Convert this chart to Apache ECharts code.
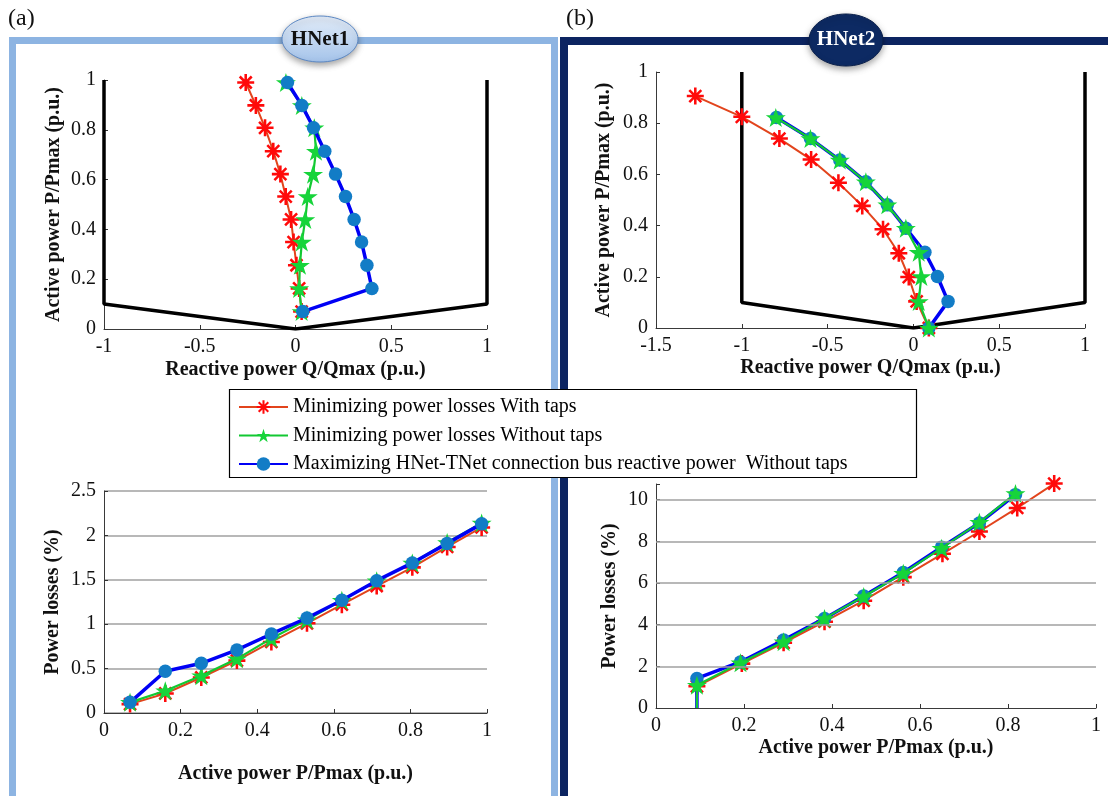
<!DOCTYPE html>
<html><head><meta charset="utf-8">
<script src="https://cdn.jsdelivr.net/npm/echarts@6/dist/echarts.min.js"></script>
<style>html,body{margin:0;padding:0;background:#fff}#c{width:1108px;height:796px}</style>
</head><body><div id="c"></div>
<script>
// ---- series names ----
const nameRed = 'Minimizing power losses With taps';
const nameGreen = 'Minimizing power losses Without taps';
const nameBlue = 'Maximizing HNet-TNet connection bus reactive power  Without taps';

// ---- capability boundary (Q, P) ----
const boundaryQ = [-1, -1, 0, 1, 1];
const boundaryP = [1, 0.1, 0, 0.1, 1];

// ---- HNet1: P/Pmax operating points ----
const p1 = [0.07, 0.163, 0.256, 0.349, 0.44, 0.532, 0.622, 0.714, 0.808, 0.898, 0.99];
const q1Red = [0.032, 0.019, 0.005, -0.010, -0.023, -0.051, -0.079, -0.116, -0.159, -0.207, -0.26];
const q1Green = [0.032, 0.019, 0.023, 0.033, 0.051, 0.064, 0.092, 0.107, 0.098, 0.033, -0.05];
const q1Blue = [0.038, 0.399, 0.373, 0.345, 0.306, 0.261, 0.209, 0.153, 0.094, 0.033, -0.042];
const pl1 = [0.068, 0.16, 0.254, 0.347, 0.437, 0.53, 0.621, 0.712, 0.805, 0.896, 0.986];
const loss1Red = [0.10, 0.22, 0.40, 0.59, 0.80, 1.01, 1.22, 1.43, 1.64, 1.87, 2.09];
const loss1Green = [0.12, 0.25, 0.42, 0.61, 0.84, 1.05, 1.27, 1.49, 1.69, 1.92, 2.14];
const loss1Blue = [0.12, 0.47, 0.56, 0.71, 0.89, 1.07, 1.27, 1.49, 1.69, 1.91, 2.13];

// ---- HNet2 ----
const p2Red = [0.0, 0.104, 0.199, 0.292, 0.386, 0.477, 0.567, 0.658, 0.74, 0.825, 0.906];
const q2Red = [0.09, 0.019, -0.027, -0.085, -0.177, -0.298, -0.437, -0.596, -0.781, -1.0, -1.271];
const p2NoTap = [0.0, 0.104, 0.201, 0.296, 0.39, 0.481, 0.571, 0.656, 0.740, 0.822];
const q2Green = [0.09, 0.031, 0.046, 0.031, -0.044, -0.152, -0.277, -0.429, -0.6, -0.802];
const q2Blue = [0.09, 0.202, 0.14, 0.067, -0.044, -0.152, -0.277, -0.429, -0.6, -0.798];
const pl2Red = [0.093, 0.195, 0.290, 0.383, 0.472, 0.562, 0.651, 0.735, 0.821, 0.905];
const loss2Red = [1.04, 2.13, 3.13, 4.14, 5.15, 6.28, 7.40, 8.47, 9.60, 10.77];
const pl2NoTap = [0.093, 0.093, 0.192, 0.29, 0.383, 0.472, 0.562, 0.649, 0.735, 0.817];
const loss2Green = [0, 1.09, 2.17, 3.18, 4.30, 5.35, 6.47, 7.67, 8.91, 10.29];
const loss2Blue = [0, 1.42, 2.21, 3.26, 4.30, 5.38, 6.50, 7.72, 8.88, 10.24];
const gridTicks2 = [2, 4, 6, 8, 10];

const zip = (a, b) => a.map((v, i) => [v, b[i]]);
// the zero-loss start point of HNet2 curves carries no marker in the figure
const zipNoMarkAtZero = (a, b) => a.map((v, i) => (b[i] === 0 ? {value: [v, b[i]], symbol: 'none'} : [v, b[i]]));

const FONT = '"Liberation Serif", "Times New Roman", serif';
const ASTER = 'path://M-10,-1.5L10,-1.5L10,1.5L-10,1.5Z M-1.5,-10L1.5,-10L1.5,10L-1.5,10Z M-6,-8.1L8.1,6L6,8.1L-8.1,-6Z M6,-8.1L8.1,-6L-6,8.1L-8.1,6Z';
const STAR = 'path://M0,-10L2.245,-3.09L9.511,-3.09L3.633,1.18L5.878,8.09L0,3.82L-5.878,8.09L-3.633,1.18L-9.511,-3.09L-2.245,-3.09Z';

const style = {
  red:   {symbol: ASTER, symbolSize: 17, lineStyle: {color: '#E2441C', width: 2}, itemStyle: {color: '#FF0A0A'}},
  green: {symbol: STAR, symbolSize: 20, lineStyle: {color: '#12C832', width: 2.2}, itemStyle: {color: '#16D43A'}},
  blue:  {symbol: 'circle', symbolSize: 13.5, lineStyle: {color: '#0000F5', width: 3.5}, itemStyle: {color: '#127CC6'}}
};

function ser(name, key, idx, data, z) {
  const s = style[key];
  return {
    name, type: 'line', xAxisIndex: idx, yAxisIndex: idx, data, z,
    symbol: s.symbol, symbolSize: s.symbolSize, symbolKeepAspect: true,
    lineStyle: s.lineStyle, itemStyle: s.itemStyle, showSymbol: true,
    clip: false, silent: true, animation: false
  };
}
function boundary(idx) {
  return {name: 'boundary', type: 'line', xAxisIndex: idx, yAxisIndex: idx,
    data: zip(boundaryQ, boundaryP), symbol: 'none', z: 1,
    lineStyle: {color: '#000', width: 3.5}, silent: true, animation: false};
}

const axisCommon = {
  axisLine: {show: true, onZero: false, lineStyle: {color: '#3a3a3a', width: 1}},
  axisTick: {show: true, inside: true, length: 4, lineStyle: {color: '#333'}},
  axisLabel: {fontFamily: FONT, fontSize: 20, color: '#111', margin: 8},
  nameLocation: 'middle',
  nameTextStyle: {fontFamily: FONT, fontSize: 20, fontWeight: 'bold', color: '#111'}
};
function xa(idx, min, max, interval, name, gap) {
  return Object.assign({}, axisCommon, {type: 'value', gridIndex: idx, min, max, interval, name, nameGap: gap,
    splitLine: {show: false}});
}
function ya(idx, min, max, interval, name, gap, grid) {
  return Object.assign({}, axisCommon, {type: 'value', gridIndex: idx, min, max, interval, name, nameGap: gap,
    splitLine: {show: !!grid, lineStyle: {color: '#a0a0a0', width: 1.5}}});
}

const chart = echarts.init(document.getElementById('c'), null, {renderer: 'canvas'});
const gridLines2 = {
  silent: true, symbol: 'none', label: {show: false},
  lineStyle: {color: '#a0a0a0', width: 1.5, type: 'solid'},
  data: gridTicks2.map(v => ({yAxis: v}))
};

const option = {
  backgroundColor: '#fff',
  animation: false,
  grid: [
    {left: 104, top: 80, width: 383, height: 249},
    {left: 656, top: 72, width: 429, height: 256},
    {left: 104, top: 491, width: 383, height: 222},
    {left: 656, top: 484, width: 440, height: 224}
  ],
  xAxis: [
    xa(0, -1, 1, 0.5, 'Reactive power Q/Qmax (p.u.)', 31),
    xa(1, -1.5, 1, 0.5, 'Reactive power Q/Qmax (p.u.)', 30),
    xa(2, 0, 1, 0.2, 'Active power P/Pmax (p.u.)', 51),
    xa(3, 0, 1, 0.2, 'Active power P/Pmax (p.u.)', 30)
  ],
  yAxis: [
    ya(0, 0, 1, 0.2, 'Active power P/Pmax (p.u.)', 40, false),
    ya(1, 0, 1, 0.2, 'Active power P/Pmax (p.u.)', 42, false),
    ya(2, 0, 2.5, 0.5, 'Power losses (%)', 41, true),
    Object.assign(ya(3, 0, 10.75, 2, 'Power losses (%)', 36, false),
      {axisLabel: Object.assign({}, axisCommon.axisLabel, {formatter: v => (v % 2 === 0 ? String(v) : '')})})
  ],
  legend: {
    data: [nameRed, nameGreen, nameBlue],
    orient: 'vertical', left: 238, top: 397, padding: 0,
    itemWidth: 49, itemHeight: 17, itemGap: 8.5,
    selectedMode: false, z: 10,
    textStyle: {fontFamily: FONT, fontSize: 20, color: '#000', lineHeight: 20}
  },
  graphic: [
    {type: 'rect', z: 0, shape: {x: 12.5, y: 40.5, width: 542, height: 800},
      style: {fill: 'none', stroke: '#8DB4E2', lineWidth: 7}},
    {type: 'rect', z: 0, shape: {x: 564, y: 41, width: 600, height: 800},
      style: {fill: 'none', stroke: '#0C2461', lineWidth: 8}},
    {type: 'rect', z: 3, shape: {x: 229.5, y: 389.5, width: 687, height: 88},
      style: {fill: '#fff', stroke: '#000', lineWidth: 1.2}},
    {type: 'ellipse', z: 5, shape: {cx: 320, cy: 39, rx: 38, ry: 23},
      style: {fill: new echarts.graphic.LinearGradient(0, 0, 0, 1, [{offset: 0, color: '#E3EDF9'}, {offset: 1, color: '#A4C3EA'}]),
        stroke: '#5C88C4', lineWidth: 1, shadowBlur: 6, shadowColor: 'rgba(0,0,0,0.35)', shadowOffsetY: 3}},
    {type: 'text', z: 6, x: 320, y: 40,
      style: {text: 'HNet1', font: 'bold 21px "Liberation Serif"', fill: '#111', align: 'center', verticalAlign: 'middle'}},
    {type: 'ellipse', z: 5, shape: {cx: 846, cy: 40, rx: 37, ry: 26},
      style: {fill: '#0D2A63', stroke: '#0A1F4A', lineWidth: 1, shadowBlur: 6, shadowColor: 'rgba(0,0,0,0.35)', shadowOffsetY: 3}},
    {type: 'text', z: 6, x: 846, y: 40,
      style: {text: 'HNet2', font: 'bold 21px "Liberation Serif"', fill: '#fff', align: 'center', verticalAlign: 'middle'}},
    {type: 'text', z: 6, x: 8, y: 19,
      style: {text: '(a)', font: '24px "Liberation Serif"', fill: '#111', align: 'left', verticalAlign: 'middle'}},
    {type: 'text', z: 6, x: 566, y: 19,
      style: {text: '(b)', font: '24px "Liberation Serif"', fill: '#111', align: 'left', verticalAlign: 'middle'}}
  ],
  series: [
    boundary(0),
    ser(nameRed, 'red', 0, zip(q1Red, p1), 2),
    ser(nameGreen, 'green', 0, zip(q1Green, p1), 3),
    ser(nameBlue, 'blue', 0, zip(q1Blue, p1), 4),

    boundary(1),
    ser(nameRed, 'red', 1, zip(q2Red, p2Red), 2),
    ser(nameBlue, 'blue', 1, zip(q2Blue, p2NoTap), 3),
    ser(nameGreen, 'green', 1, zip(q2Green, p2NoTap), 4),

    ser(nameRed, 'red', 2, zip(pl1, loss1Red), 2),
    ser(nameGreen, 'green', 2, zip(pl1, loss1Green), 3),
    ser(nameBlue, 'blue', 2, zip(pl1, loss1Blue), 4),

    Object.assign(ser(nameRed, 'red', 3, zip(pl2Red, loss2Red), 2), {markLine: gridLines2}),
    ser(nameBlue, 'blue', 3, zipNoMarkAtZero(pl2NoTap, loss2Blue), 3),
    ser(nameGreen, 'green', 3, zipNoMarkAtZero(pl2NoTap, loss2Green), 4)
  ]
};
chart.setOption(option);
</script>
</body></html>
